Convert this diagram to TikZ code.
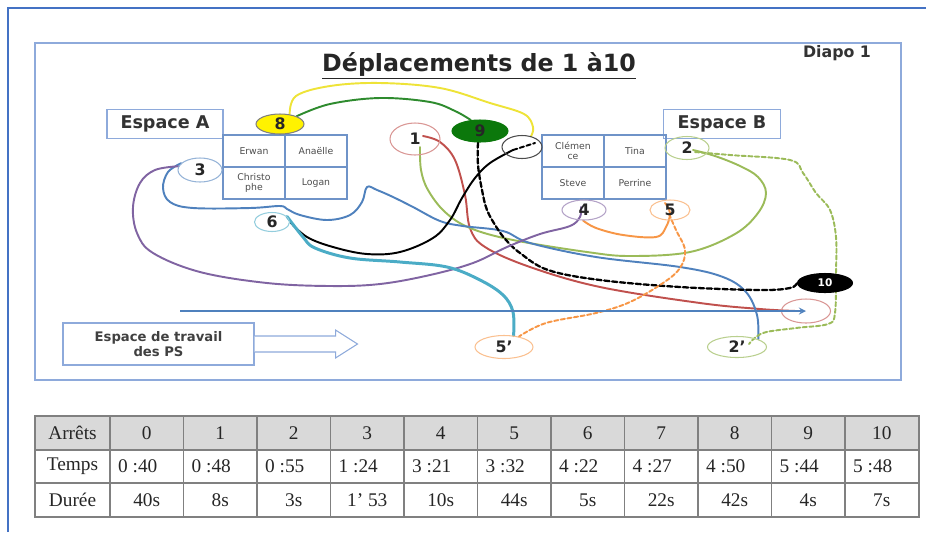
\documentclass[tikz,border=0pt]{standalone}
\usepackage{fontspec}
\setmainfont{DejaVu Sans}
\newfontfamily\tabfont{Liberation Serif}
\usetikzlibrary{shapes.geometric,backgrounds}
\definecolor{cadreext}{HTML}{4472C4}
\definecolor{cadreint}{HTML}{8EAADB}
\definecolor{grille}{HTML}{6F93C8}
\definecolor{jaune}{HTML}{EEE338}
\definecolor{vertfonce}{HTML}{2E8B2E}
\definecolor{vertnoeud}{HTML}{0B780B}
\definecolor{rouge}{HTML}{C0504D}
\definecolor{rougeclair}{HTML}{D99694}
\definecolor{vertclair}{HTML}{9BBB59}
\definecolor{vertpale}{HTML}{B9CF8E}
\definecolor{bleu}{HTML}{4F81BD}
\definecolor{bleuclair}{HTML}{95B3D7}
\definecolor{mauve}{HTML}{8064A2}
\definecolor{mauveclair}{HTML}{B3A2C7}
\definecolor{orangec}{HTML}{F79646}
\definecolor{orangeclair}{HTML}{FAC090}
\definecolor{cyanc}{HTML}{4BACC6}
\definecolor{cyanclair}{HTML}{93CDDD}
\definecolor{grisentete}{HTML}{D9D9D9}

\begin{document}
\begin{tikzpicture}[x=0.02cm, y=-0.02cm, >=stealth,
  cadre/.style={draw=cadreint, line width=0.6pt, minimum height=23*0.02cm, font=\fontsize{10}{12}\selectfont\bfseries, text=black!80},
  case/.style={draw=grille, line width=0.6pt, minimum width=62*0.02cm, minimum height=32*0.02cm, inner sep=0pt, align=center, text=black!70, font=\fontsize{5.3}{5.8}\selectfont},
  arret/.style 2 args={ellipse, draw, line width=0.6pt, inner sep=0pt, minimum width=#1*0.02cm, minimum height=#2*0.02cm, font=\fontsize{9}{10}\selectfont\bfseries, text=black!85},
  trajet/.style={line width=1.1pt, line cap=round, line join=round},
  pointille/.style={trajet, dash pattern=on 2.4pt off 1.4pt},
  cellule/.style={font=\fontsize{11}{12}\tabfont, text=black!85}]
\useasboundingbox (0,0) rectangle (926,532);
\draw[cadreext, line width=1pt] (8,532) -- (8,8) -- (926,8);
\draw[cadreint, line width=0.8pt] (35,43) rectangle (901,380);

\node[anchor=base, font=\fontsize{13.5}{16}\selectfont\bfseries, text=black!85] (titre) at (479,71) {\underline{Déplacements de 1 à10}};
\node[font=\fontsize{9}{11}\selectfont\bfseries, text=black!80] (diapo) at (837,53) {Diapo 1};

\node[cadre, minimum width=116*0.02cm] (espA) at (165,124) {Espace A};
\node[cadre, minimum width=117*0.02cm] (espB) at (722,124) {Espace B};

\node[case] (erwan) at (254,151) {Erwan};
\node[case] (anaelle) at (316,151) {Anaëlle};
\node[case] (christophe) at (254,183) {Christo\\phe};
\node[case] (logan) at (316,183) {Logan};
\node[case] (clemence) at (573,151) {Clémen\\ce};
\node[case] (tina) at (635,151) {Tina};
\node[case] (steve) at (573,183) {Steve};
\node[case] (perrine) at (635,183) {Perrine};

\node[arret={48}{20}, draw=gray, fill=yellow] (n8) at (280,124) {8};
\node[arret={44}{24}, draw=bleuclair] (n3) at (200,170) {3};
\node[arret={50}{32}, draw=rougeclair] (n1) at (415,139) {1};
\node[arret={56}{22}, draw=vertnoeud, fill=vertnoeud] (n9) at (480,131) {9};
\node[arret={40}{23}, draw=black!70] (n7) at (522,147) {};
\node[arret={44}{23}, draw=vertpale] (n2) at (687,148) {2};
\node[arret={44}{20}, draw=mauveclair] (n4) at (584,210) {4};
\node[arret={40}{20}, draw=orangeclair] (n5) at (670,210) {5};
\node[arret={35}{19}, draw=cyanclair] (n6) at (272,222) {6};
\node[arret={55}{19}, draw=black, fill=black, text=white, font=\fontsize{6}{7}\selectfont\bfseries] (n10) at (825,283) {10};
\node[arret={49}{24}, draw=rougeclair] (nR) at (806,311) {};
\node[arret={58}{23}, draw=orangeclair] (n5p) at (504,347) {5’};
\node[arret={59}{21}, draw=vertpale] (n2p) at (737,347) {2’};

\coordinate (ligne) at (180,311);
\draw[bleu, line width=0.8pt, ->] (ligne) -- (nR.center);

\node[draw=cadreint, line width=0.6pt, minimum width=191*0.02cm, minimum height=42*0.02cm, align=center, font=\fontsize{7.5}{9}\selectfont\bfseries, text=black!75] (ps) at (158.5,344) {Espace de travail\\des PS};
\draw[cadreint, line width=0.6pt, fill=white] ([shift={(0,-8)}]ps.east) -- ++(81,0) -- ++(0,-6) -- ++(22,14) -- ++(-22,14) -- ++(0,-6) -- ++(-81,0);

\begin{pgfonlayer}{background}
\draw[trajet, jaune] plot[smooth, tension=0.6] coordinates {(n8.45) (296,96) (330,86) (380,83) (440,88) (490,103) (524,114) (533,127) (n7.50)};
\draw[trajet, vertfonce] plot[smooth, tension=0.6] coordinates {(n8.25) (330,104) (380,98) (430,102) (455,111) (n9.130)};
\draw[trajet, rouge] plot[smooth, tension=0.6] coordinates {([shift={(8,-3)}]n1.center) (440,142) (455,160) (465,195) (470,228) (485,247) (530,267) (600,287) (700,303) (760,309) ([shift={(-10,0)}]nR.center)};
\draw[trajet, vertclair] plot[smooth, tension=0.6] coordinates {([shift={(5,8)}]n1.center) (421,170) (428,190) (445,212) (470,228) (513,240) (587,252) (630,256) (690,252) (735,234) (758,213) (766,193) (758,177) (740,166) (715,156) ([shift={(6,2)}]n2.center)};
\draw[trajet, bleu] plot[smooth, tension=0.6] coordinates {(n3.160) (168,172) (163,188) (170,202) (193,208) (250,208) (280,206) (287,209) (300,215) (327,220) (350,215) (362,202) (367,187) (377,190) (393,197) (413,207) (440,221) (463,226) (503,231) (530,243) (596,257) (680,267) (723,277) (746,292) (757,315) (n2p.20)};
\draw[trajet, black] plot[smooth, tension=0.6] coordinates {(n6.east) (307,237) (333,247) (367,254) (400,252) (433,238) (450,220) (462,198) (475,178) (490,163) ([shift={(-9,3)}]n7.center)};
\draw[trajet, black, dash pattern=on 2.5pt off 1.5pt] ([shift={(-9,3)}]n7.center) -- ([shift={(13,-4)}]n7.center);
\draw[trajet, black, line width=1.3pt, dash pattern=on 3pt off 1.5pt] plot[smooth, tension=0.6] coordinates {(n9.260) (478,165) (482,190) (487,210) (497,228) (506,240) (520,253) (548,270) (600,280) (680,287) (760,290) (790,288) (n10.west)};
\draw[trajet, mauve] plot[smooth, tension=0.6] coordinates {([shift={(-3,-3)}]n4.center) (580,217) (570,226) (540,234) (507,247) (473,263) (430,275) (380,284) (330,286) (267,283) (200,272) (153,253) (137,233) (133,207) (140,183) (155,170) (n3.170)};
\draw[trajet, orangec] plot[smooth, tension=0.6] coordinates {(n4.265) (596,228) (623,235) (656,237) (666,227) (670,213) ([shift={(-5,-7)}]n5.center)};
\draw[pointille, orangec] plot[smooth, tension=0.6] coordinates {([shift={(-1,4)}]n5.center) (676,230) (685,250) (680,268) (663,283) (630,302) (596,313) (546,323) (n5p.35)};
\draw[trajet, cyanc, line width=1.7pt] plot[smooth, tension=0.6] coordinates {(n6.20) (303,237) (315,248) (350,258) (400,262) (447,267) (480,280) (503,295) (513,312) (n5p.50)};
\draw[pointille, vertclair] plot[smooth, tension=0.6] coordinates {([shift={(8,4)}]n2.center) (730,155) (790,160) (803,173) (816,193) (830,210) (836,237) (836,273) (835,313) (828,324) (796,328) (763,333) ([shift={(12,-3)}]n2p.center)};
\end{pgfonlayer}

\fill[grisentete] (35,416) rectangle (919,450);
\draw[gray, line width=0.9pt] (35,416) rectangle (919,517);
\draw[gray, line width=0.9pt] (35,450) -- (919,450) (35,483) -- (919,483);
\foreach \i in {0,...,10}
  \draw[gray, line width=0.9pt] ({110+73.5*\i},416) -- ({110+73.5*\i},517);
\node[cellule] (arrets) at (72.5,433) {Arrêts};
\node[cellule] (temps) at (72.5,466.5) {Temps};
\node[cellule] (duree) at (72.5,500) {Durée};
\foreach \tps/\dur [count=\i from 0] in {0 :40/40s, 0 :48/8s, 0 :55/3s, 1 :24/1’ 53, 3 :21/10s, 3 :32/44s, 4 :22/5s, 4 :27/22s, 4 :50/42s, 5 :44/4s, 5 :48/7s} {
  \node[cellule] (a\i) at ({146.75+73.5*\i},433) {\i};
  \node[cellule, anchor=west] (t\i) at ({112+73.5*\i},466.5) {\tps};
  \node[cellule] (d\i) at ({146.75+73.5*\i},500) {\dur};
}
\end{tikzpicture}
\end{document}
